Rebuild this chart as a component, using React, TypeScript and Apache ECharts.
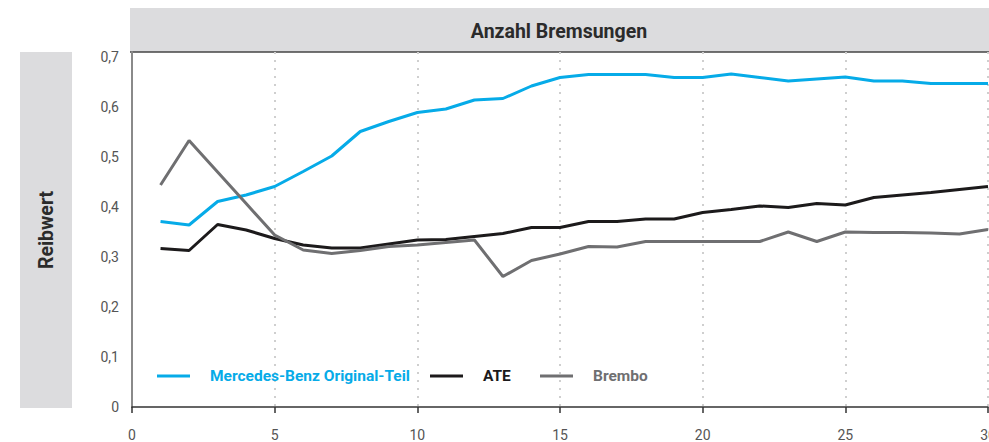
import React, { useEffect, useRef } from "react";
import * as echarts from "echarts";

const brakings = [1, 2, 3, 4, 5, 6, 7, 8, 9, 10, 11, 12, 13, 14, 15, 16, 17, 18, 19, 20, 21, 22, 23, 24, 25, 26, 27, 28, 29, 30];
const mercedes = [0.371, 0.364, 0.411, 0.424, 0.441, 0.471, 0.502, 0.551, 0.571, 0.589, 0.596, 0.614, 0.617, 0.642, 0.659, 0.665, 0.665, 0.665, 0.659, 0.659, 0.666, 0.659, 0.652, 0.656, 0.66, 0.652, 0.652, 0.647, 0.647, 0.647];
const ate = [0.317, 0.313, 0.365, 0.354, 0.337, 0.324, 0.318, 0.318, 0.326, 0.334, 0.335, 0.341, 0.347, 0.359, 0.359, 0.371, 0.371, 0.376, 0.376, 0.389, 0.395, 0.402, 0.399, 0.407, 0.404, 0.419, 0.424, 0.429, 0.435, 0.441];
const brembo = [0.444, 0.533, 0.47, 0.407, 0.344, 0.314, 0.307, 0.313, 0.321, 0.324, 0.329, 0.334, 0.261, 0.293, 0.306, 0.321, 0.32, 0.331, 0.331, 0.331, 0.331, 0.331, 0.35, 0.331, 0.35, 0.349, 0.349, 0.348, 0.346, 0.355];
const seriesNames = ["Mercedes-Benz Original-Teil", "ATE", "Brembo"];
const seriesColors = ["#06abe8", "#1c1a1b", "#6f6f71"];
const xTitle = "Anzahl Bremsungen";
const yTitle = "Reibwert";

const FONT = "Roboto, 'Noto Sans', sans-serif";

export default function App() {
  const ref = useRef<HTMLDivElement>(null);
  useEffect(() => {
    if (!ref.current) return;
    const chart = echarts.init(ref.current, undefined, { renderer: "svg" });
    const pair = (arr: number[]) => brakings.map((b, i) => [b, arr[i]]);
    const values = [mercedes, ate, brembo];
    const legendLefts = [157, 430, 540];
    chart.setOption({
      animation: false,
      backgroundColor: "#ffffff",
      textStyle: { fontFamily: FONT },
      grid: { left: 132, right: 1, top: 52, bottom: 35, containLabel: false, outerBoundsMode: "none" },
      legend: seriesNames.map((n, i) => ({
        data: [{ name: n, textStyle: { color: seriesColors[i] } }],
        left: legendLefts[i],
        top: 368,
        padding: 0,
        icon: "rect",
        itemWidth: 33,
        itemHeight: 3,
        selectedMode: false,
        textStyle: { fontFamily: FONT, fontWeight: "bold", fontSize: 15.5, padding: [0, 0, 0, 15] },
      })),
      xAxis: {
        type: "value",
        min: 0,
        max: 30,
        interval: 5,
        axisLine: { show: true, lineStyle: { color: "#333333", width: 1.5 } },
        axisTick: { show: true, length: 6, lineStyle: { color: "#333333", width: 1.5 } },
        axisLabel: { color: "#555555", fontSize: 14, margin: 21, fontFamily: FONT },
        splitLine: { show: true, lineStyle: { color: "#cfcfcf", width: 2, type: [2, 6] } },
      },
      yAxis: {
        type: "value",
        min: 0,
        max: 0.71,
        interval: 0.1,
        axisLine: { show: true, lineStyle: { color: "#8a8a8a", width: 2 } },
        axisTick: { show: false },
        splitLine: { show: false },
        axisLabel: {
          color: "#555555",
          fontSize: 14,
          margin: 13,
          fontFamily: FONT,
          showMaxLabel: false,
          formatter: (v: number) => (v === 0 ? "0" : (Math.round(v * 10) / 10).toFixed(1).replace(".", ",")),
        },
      },
      graphic: [
        { type: "rect", left: 130, top: 8, shape: { width: 859, height: 44 }, style: { fill: "#dcdcde" }, z: -1 },
        { type: "line", shape: { x1: 130, y1: 52, x2: 989, y2: 52 }, style: { stroke: "#444444", lineWidth: 1.5 } },
        {
          type: "text",
          x: 559,
          y: 31,
          style: { text: xTitle, fill: "#2b2b2b", font: `bold 19.5px ${FONT}`, align: "center", verticalAlign: "middle" },
        },
        { type: "rect", left: 20, top: 52, shape: { width: 52, height: 356 }, style: { fill: "#dcdcde" }, z: -1 },
        {
          type: "text",
          x: 46,
          y: 230,
          rotation: Math.PI / 2,
          style: { text: yTitle, fill: "#2b2b2b", font: `bold 19.5px ${FONT}`, align: "center", verticalAlign: "middle" },
        },
      ],
      series: values.map((arr, i) => ({
        name: seriesNames[i],
        type: "line",
        data: pair(arr),
        showSymbol: false,
        symbol: "none",
        lineStyle: { color: seriesColors[i], width: 3 },
        itemStyle: { color: seriesColors[i] },
        z: 2 + i,
      })),
    });
    return () => chart.dispose();
  }, []);
  return <div ref={ref} style={{ width: 989, height: 442, position: "absolute", left: 0, top: 0 }} />;
}
